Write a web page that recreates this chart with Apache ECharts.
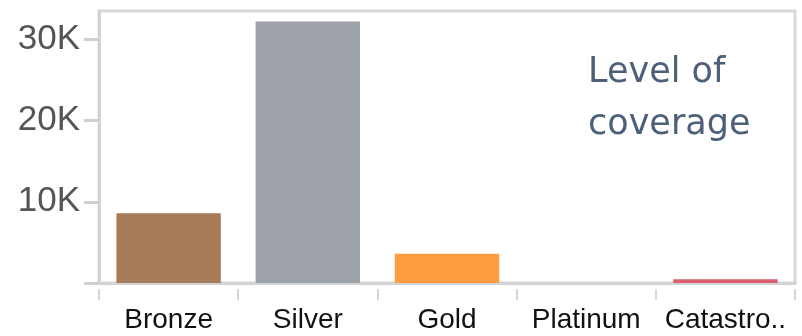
<!DOCTYPE html>
<html>
<head>
<meta charset="utf-8">
<script src="https://cdn.jsdelivr.net/npm/echarts@6/dist/echarts.min.js"></script>
<style>html,body{margin:0;padding:0;background:#fff}#c{width:802px;height:336px}</style>
</head>
<body>
<div id="c"></div>
<script>
const categories = ['Bronze', 'Silver', 'Gold', 'Platinum', 'Catastro..'];
const values = [8600, 32200, 3600, 0, 450];
const barColors = ['#a67c5a', '#9ca2a7', '#ff9b40', '#6f8fb0', '#d95f6c'];
const yTicks = [0, 10000, 20000, 30000];
const legendLines = ['Level of', 'coverage'];

const chart = echarts.init(document.getElementById('c'));
const axisFont = "'Liberation Sans', Arial, sans-serif";
chart.setOption({
  animation: false,
  grid: { left: 99, right: 7, top: 11, bottom: 53, show: true, borderWidth: 3, borderColor: '#d8d8d8', backgroundColor: 'transparent' },
  xAxis: [{
    type: 'category',
    data: categories,
    axisLine: { lineStyle: { color: '#d3d3d3', width: 3 } },
    axisTick: { show: false },
    axisLabel: { margin: 23, fontSize: 28, color: '#111', fontFamily: axisFont, interval: 0 }
  }, {
    type: 'category',
    data: categories,
    position: 'bottom',
    offset: 6,
    axisLine: { show: false },
    axisTick: { show: true, length: 11, lineStyle: { color: '#d6d6d6', width: 2 } },
    axisLabel: { show: false }
  }],
  yAxis: {
    type: 'value',
    min: 0,
    max: 33500,
    interval: 10000,
    splitLine: { show: false },
    axisLine: { show: true, lineStyle: { color: '#d3d3d3', width: 3 } },
    axisTick: { show: true, length: 15, customValues: yTicks, lineStyle: { color: '#d0d0d0', width: 3 } },
    axisLabel: {
      margin: 19, fontSize: 35, color: '#555', fontFamily: axisFont,
      customValues: yTicks.slice(1),
      formatter: v => (v % 10000 === 0 && v > 0) ? (v / 1000) + 'K' : ''
    }
  },
  series: [{
    type: 'bar',
    data: values.map((v, i) => ({ value: v, itemStyle: { color: barColors[i] } })),
    barCategoryGap: '25%',
    xAxisIndex: 0
  }],
  graphic: legendLines.map((t, i) => ({
    type: 'text',
    left: 588,
    top: 55 + i * 52,
    style: { text: t, fontSize: 35, fontFamily: "'DejaVu Sans', sans-serif", fill: '#4e6079' }
  }))
});
</script>
</body>
</html>
